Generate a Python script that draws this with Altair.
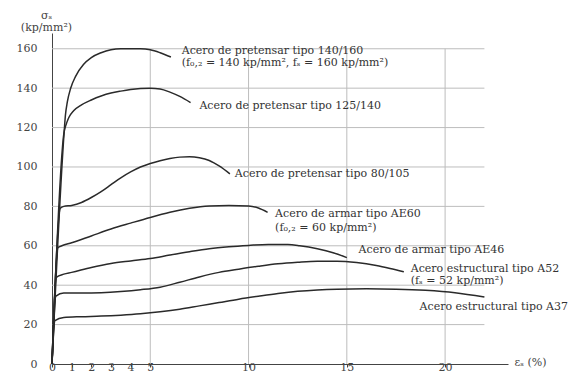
import altair as alt
import pandas as pd

# ---------------- data ----------------
series = ["140/160", "125/140", "80/105", "AE60", "AE46", "A52", "A37"]

s1_x = [0, 0.62, 0.68, 0.78, 0.95, 1.2, 1.6, 2.0, 2.5, 3.0, 3.5, 4.5, 5.0, 5.5, 6.05]
s1_y = [0, 118, 126, 133, 140, 146, 152, 155.5, 158, 159.5, 160, 160, 159.5, 158, 155.8]

s2_x = [0, 0.62, 0.7, 0.85, 1.1, 1.5, 2.0, 2.5, 3.0, 3.5, 4.0, 4.5, 5.0, 5.5, 6.0, 6.5, 7.05]
s2_y = [0, 118, 121, 125, 128.5, 131.5, 134, 136, 137.5, 138.5, 139.3, 139.8, 140, 139.6, 138, 135.8, 132.7]

s3_x = [0, 0.42, 0.6, 1.0, 1.5, 2.0, 2.5, 3.0, 3.5, 4.0, 4.5, 5.0, 5.5, 6.0, 6.5, 7.0, 7.5, 8.0, 8.5, 9.05]
s3_y = [0, 79, 80, 80.5, 82, 84.5, 87.5, 91, 94.5, 97.5, 100, 101.8, 103.2, 104.3, 105, 105.2, 104.7, 103.3, 100.5, 96.5]

s4_x = [0, 0.3, 0.5, 1.0, 2.0, 3.0, 4.0, 5.0, 6.0, 7.0, 8.0, 9.0, 10.0, 10.5, 10.97]
s4_y = [0, 59, 60, 61.5, 65, 68.5, 71.5, 74.4, 77, 79, 80.2, 80.5, 80.2, 79.2, 77]

s5_x = [0, 0.22, 0.6, 1.0, 2.0, 3.0, 4.0, 5.0, 6.0, 7.0, 8.0, 9.0, 10.0, 11.0, 12.0, 12.6, 13.5, 14.3, 15.0]
s5_y = [0, 44, 45.6, 46.5, 49, 51, 52.3, 53.5, 55.3, 57, 58.5, 59.5, 60.2, 60.7, 60.6, 60, 58.5, 56.5, 54]

s6_x = [0, 0.2, 0.6, 1.5, 2.5, 3.5, 4.5, 5.5, 6.5, 7.5, 8.5, 9.5, 10.5, 11.5, 12.5, 13.5, 14.5, 15.5, 16.5, 17.2, 17.9]
s6_y = [0, 34.5, 36, 36, 36.2, 36.8, 37.7, 39, 41.5, 44.2, 46.5, 48.1, 49.6, 50.9, 51.7, 52.2, 52.2, 51.5, 50, 48.5, 46.8]

s7_x = [0, 0.15, 0.6, 1.5, 2.5, 3.5, 4.5, 5.5, 6.5, 7.5, 8.5, 9.5, 10.5, 11.5, 12.5, 13.5, 14.5, 16, 17.5, 19, 20.5, 22]
s7_y = [0, 22, 23.6, 24, 24.3, 24.8, 25.5, 26.5, 27.8, 29.5, 31.2, 32.9, 34.4, 35.8, 36.9, 37.6, 38, 38.2, 38, 37.4, 36.2, 34]

label_text = [
    "Acero de pretensar tipo 140/160",
    "(f₀,₂ = 140 kp/mm², fₛ = 160 kp/mm²)",
    "Acero de pretensar tipo 125/140",
    "Acero de pretensar tipo 80/105",
    "Acero de armar tipo AE60",
    "(f₀,₂ = 60 kp/mm²)",
    "Acero de armar tipo AE46",
    "Acero estructural tipo A52",
    "(fₛ = 52 kp/mm²)",
    "Acero estructural tipo A37",
]
label_x = [6.6, 6.6, 7.5, 9.3, 11.35, 11.35, 15.6, 18.25, 18.25, 18.7]
label_y = [159, 153, 131, 96.3, 76, 68.8, 57.8, 48.1, 41.9, 28.7]

y_ticks = [0, 20, 40, 60, 80, 100, 120, 140, 160]
x_ticks = [0, 1, 2, 3, 4, 5, 10, 15, 20]
h_grid = [20, 40, 60, 80, 100, 120, 140, 160]
v_grid = [5, 10, 15, 20]

# ---------------- tables ----------------
xs = [s1_x, s2_x, s3_x, s4_x, s5_x, s6_x, s7_x]
ys = [s1_y, s2_y, s3_y, s4_y, s5_y, s6_y, s7_y]
rows = []
for name, sx, sy in zip(series, xs, ys):
    for i, (a, b) in enumerate(zip(sx, sy)):
        rows.append({"serie": name, "o": i, "x": a, "y": b})
curves = pd.DataFrame(rows)

hg = pd.DataFrame({"y": h_grid, "x": [0] * len(h_grid), "x2": [22] * len(h_grid)})
vg = pd.DataFrame({"x": v_grid, "y": [0] * len(v_grid), "y2": [160] * len(v_grid)})
labels = pd.DataFrame({"x": label_x, "y": label_y, "t": label_text})

FONT = "DejaVu Serif"
xscale = alt.Scale(domain=[0, 23.2], nice=False, zero=False)
yscale = alt.Scale(domain=[0, 168], nice=False, zero=False)

xaxis = alt.Axis(
    values=x_ticks, grid=False, domainColor="#444", domainWidth=1,
    tickColor="#444", tickSize=3, tickWidth=1,
    labelFont=FONT, labelFontSize=11, labelColor="#444", labelPadding=0,
    labelBaseline="middle", labelAngle=0, labelFlush=False, labelOverlap=False,
    title="εₛ (%)", titleX=462, titleY=-2, titleAlign="left", titleBaseline="middle",
    titleFont=FONT, titleFontSize=11, titleFontWeight="normal", titleColor="#444",
)
yaxis = alt.Axis(
    values=y_ticks, grid=False, ticks=False, domainColor="#444", domainWidth=1,
    labelFont=FONT, labelFontSize=11, labelColor="#444", labelPadding=15,
    title=["σₛ", "(kp/mm²)"], titleAngle=0, titleX=-6, titleY=-24,
    titleAlign="center", titleBaseline="top", titleLineHeight=12,
    titleFont=FONT, titleFontSize=11, titleFontWeight="normal", titleColor="#444",
)

def X(field="x"):
    return alt.X(f"{field}:Q", scale=xscale, axis=xaxis)

def Y(field="y"):
    return alt.Y(f"{field}:Q", scale=yscale, axis=yaxis)

hgrid = alt.Chart(hg).mark_rule(color="#bdbdbd", strokeWidth=1).encode(
    x=X(), x2="x2:Q", y=Y()
)
vgrid = alt.Chart(vg).mark_rule(color="#bdbdbd", strokeWidth=1).encode(
    x=X(), y=Y(), y2="y2:Q"
)
lines = alt.Chart(curves).mark_line(color="#2a2a2a", strokeWidth=1.5, interpolate="monotone").encode(
    x=X(), y=Y(), detail="serie:N", order="o:Q"
)
texts = alt.Chart(labels).mark_text(
    align="left", baseline="middle", font=FONT, fontSize=11, color="#333"
).encode(x=X(), y=Y(), text="t:N")

chart = alt.layer(hgrid, vgrid, lines, texts).properties(
    width=456, height=331,
    autosize=alt.AutoSizeParams(type="none"),
    padding={"left": 44, "top": 25, "right": 68, "bottom": 11},
    background="white",
).configure_view(stroke=None)

chart.save("out.html", embed_options={"renderer": "svg", "actions": False})
